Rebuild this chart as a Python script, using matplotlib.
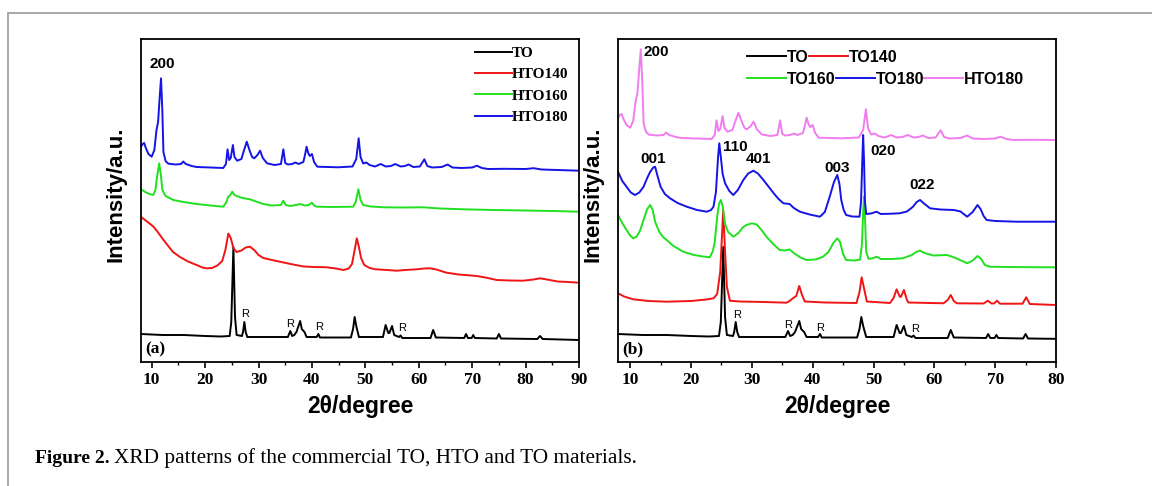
import numpy as np
import matplotlib
matplotlib.use('Agg')
import matplotlib.pyplot as plt
from matplotlib.patches import Rectangle
from matplotlib.ticker import MultipleLocator

# 2theta / intensity (a.u.) pairs
to_x = [8.0, 12, 16, 20, 23, 24.6, 24.9, 25.3, 25.6, 25.9, 26.9, 27.1, 27.35, 27.6, 27.9,
        35.5, 35.95, 36.3, 36.7, 37.1, 37.8, 38.1, 38.6, 39.0, 40.9, 41.2, 41.5, 47.3, 47.7,
        48.0, 48.3, 48.8, 53.3, 53.8, 54.3, 54.5, 55.0, 55.4, 56.3, 56.6, 56.9, 62.2, 62.7,
        63.2, 68.5, 68.85, 69.2, 69.9, 70.2, 70.5, 74.6, 75.0, 75.4, 82.2, 82.7, 83.2, 90]
to_y = [28, 27, 27, 26, 25.5, 26, 40, 115, 45, 27, 26, 30, 40, 30, 25,
        25, 31, 26, 27, 30, 41, 33, 30, 25, 25, 28, 24.5, 24.5, 33,
        45, 36, 25, 25, 37, 29, 29, 36, 27, 25, 26.5, 24, 24, 32,
        24.5, 24, 28, 24, 24, 27, 24, 23.5, 28, 23.5, 23, 26, 23, 22]

hto140_x = [8.0, 9.0, 10.3, 11.0, 11.8, 12.8, 14.0, 15.3, 16.8, 18.4, 19.5, 20.3, 21.3, 22.3,
            23.2, 23.8, 24.35, 24.8, 25.3, 25.9, 26.8, 27.6, 28.4, 29.2, 30.0, 30.9, 32.5,
            34.0, 36.0, 38.4, 40.5, 42.8, 44.5, 45.9, 46.9, 47.5, 48.0, 48.4, 48.8, 49.2,
            49.8, 50.8, 51.9, 54.0, 55.9, 57.5, 59.6, 61.0, 62.1, 63.3, 65.2, 67.5, 70.85,
            72.5, 74.6, 77.0, 79.5, 81.5, 82.7, 84.0, 86.0, 88.0, 90.0]
hto140_y = [145, 141, 135.5, 131, 125, 118, 110, 105, 100.5, 97, 94.5, 93.7, 94, 96.5,
            101, 112, 128.5, 124, 114, 110, 111.5, 114.5, 115.3, 112, 107, 104, 102,
            100.3, 98, 95.5, 95, 94.7, 93.5, 92, 93.5, 98, 112, 123.7, 115, 104,
            97, 94, 92.7, 92, 91.3, 92, 92.7, 93.5, 93.7, 92.5, 89.3, 87.5, 86,
            84.5, 82, 81.5, 81.3, 82.5, 83.7, 82.5, 80.5, 80, 79.3]

hto160_x = [8.0, 8.8, 9.6, 10.3, 10.7, 11.0, 11.4, 11.7, 12.0, 12.6, 14.05, 16.0, 18.4, 21.0,
            23.4, 24.0, 24.3, 24.7, 25.1, 25.5, 25.9, 27.0, 28.4, 29.8, 30.9, 32.5, 34.2,
            34.65, 35.1, 35.9, 37.0, 37.8, 38.6, 39.4, 40.0, 40.5, 41.0, 44.0, 47.7, 48.2,
            48.7, 49.1, 49.6, 51.0, 53.4, 57.0, 60.9, 64.0, 68.4, 74.0, 80.0, 85.0, 90.0]
hto160_y = [172.7, 170, 168, 167, 172, 185, 198.7, 188, 172, 166, 162, 160, 158, 156.5,
            155.3, 160, 165, 167, 170.3, 167, 166, 164, 162.7, 160, 158, 156.5, 157,
            161.3, 157, 156, 157, 158, 156.5, 157, 159.3, 156, 155.3, 155, 155.3, 160,
            172.7, 162, 157, 155.5, 154.7, 154.5, 154.7, 153.5, 152.7, 152, 151.5, 151, 150.3]

hto180_x = [8.0, 8.3, 8.6, 8.9, 9.4, 10.0, 10.5, 10.9, 11.2, 11.5, 11.75, 12.0, 12.2, 12.6,
            13.1, 14.5, 15.5, 15.9, 16.4, 17.5, 18.4, 21.0, 23.4, 23.9, 24.2, 24.5, 24.8,
            25.2, 25.5, 26.0, 26.8, 27.3, 27.8, 28.3, 28.8, 29.2, 29.8, 30.3, 30.8, 31.6,
            33.0, 34.2, 34.65, 35.0, 35.5, 36.3, 36.9, 37.5, 38.4, 38.7, 39.0, 39.3, 39.6,
            40.0, 40.4, 41.0, 43.0, 44.9, 47.6, 48.3, 48.75, 49.1, 49.6, 50.2, 50.8, 51.8,
            52.9, 53.8, 54.8, 55.6, 56.6, 57.4, 58.1, 59.0, 60.2, 61.05, 61.6, 62.5, 64.3,
            65.4, 66.3, 68.0, 70.0, 70.9, 71.8, 73.0, 76.0, 80.0, 81.5, 83.0, 86.0, 90.0]
hto180_y = [215.3, 218, 219, 214, 208, 205.3, 212, 232, 240, 265, 283.7, 250, 210, 201,
            198.3, 197.5, 198, 200.5, 198, 196, 195, 194.5, 194, 198, 212.7, 202, 204,
            217, 205, 201.3, 203, 212, 220.3, 212, 205, 203.7, 207, 211.3, 204, 198.7,
            197, 198, 212.7, 199, 197.5, 198, 199.5, 198, 200, 207, 215.3, 209, 206,
            208, 200, 195.3, 195, 194.7, 195.5, 203, 223.7, 205, 198.5, 199.5, 197, 195.5,
            198, 195.5, 196, 198, 195.5, 196, 197.5, 195, 195.5, 202.7, 196, 194.5, 195,
            197.5, 194.5, 194, 194.5, 196.3, 194, 193, 193.2, 193, 193.8, 192.5, 192, 191.3]
hto180_shift_b = 29

to140_x = [8.0, 9.0, 10.5, 13.0, 16.0, 20.0, 22.5, 23.7, 24.3, 24.8, 25.3, 25.6, 25.9, 26.4,
           28.0, 32.0, 35.7, 36.2, 36.8, 37.3, 37.8, 38.2, 38.7, 42.0, 47.2, 47.7, 48.05,
           48.4, 48.9, 52.7, 53.3, 53.8, 54.3, 54.5, 55.0, 55.5, 55.75, 61.5, 62.2, 62.7,
           63.2, 63.7, 68.1, 68.8, 69.4, 69.8, 70.3, 70.8, 74.5, 75.1, 75.7, 80.0]
to140_y = [68.7, 65.5, 62.7, 61, 60.3, 61, 62.5, 63.7, 68, 90, 152, 110, 75, 61.3,
           60.5, 60, 59.3, 61, 64, 66, 76, 68, 60.5, 59.5, 59, 70, 84.7,
           75, 60.5, 59, 64, 72.7, 65.5, 65, 72, 62, 59.5, 58.7, 62, 67,
           61, 58.7, 58.5, 61.3, 58.5, 58.5, 61.3, 58.3, 58.3, 64.7, 58, 57]

to160_x = [8.0, 8.7, 9.4, 10.0, 10.5, 11.0, 11.6, 12.2, 12.8, 13.3, 13.7, 14.1, 14.8, 15.4,
           16.0, 17.0, 18.7, 20.5, 22.0, 23.1, 23.6, 23.9, 24.3, 24.6, 24.9, 25.2, 25.6,
           26.1, 26.95, 27.8, 28.5, 29.1, 30.0, 30.8, 31.6, 32.4, 33.5, 34.6, 35.4, 36.2,
           37.0, 38.0, 39.0, 40.5, 41.7, 42.6, 43.4, 44.05, 44.5, 45.0, 45.5, 47.0, 47.8,
           48.1, 48.3, 48.45, 48.6, 48.8, 49.2, 50.0, 50.5, 51.2, 53.0, 54.8, 56.3, 57.0,
           57.65, 58.4, 59.85, 62.1, 63.5, 65.4, 66.3, 67.1, 67.7, 68.3, 69.1, 72.0, 76.0, 80.0]
to160_y = [147, 139, 132, 126.5, 123.7, 125, 131, 142, 153, 157, 152, 140.3, 130, 125,
           122, 116.5, 110.3, 107, 105.5, 104.7, 111, 120, 145, 158, 162, 156, 138,
           130, 125.3, 129, 134.5, 137, 138.7, 137.5, 132, 125.3, 118, 112, 111.5, 112.5,
           108.5, 104.5, 102, 102.5, 105.3, 110, 119, 123.7, 120, 108, 102, 101.5, 102.5,
           118, 150, 165.3, 145, 110, 103, 104, 105.3, 103, 103, 103.7, 107, 110,
           111.3, 109, 106.5, 107, 104, 98.7, 101.5, 106, 103, 97, 95.3, 95, 94.8, 94.7]

to180_x = [8.0, 8.7, 9.4, 10.1, 10.8, 11.5, 12.2, 12.8, 13.3, 13.8, 14.1, 14.5, 15.0, 15.7,
           16.55, 17.8, 19.3, 21.0, 22.6, 23.3, 23.7, 24.1, 24.45, 24.65, 24.9, 25.2, 25.6,
           26.3, 26.95, 27.7, 28.6, 29.4, 30.25, 31.0, 31.9, 32.8, 33.6, 34.4, 35.2, 35.8,
           36.2, 36.9, 37.9, 39.5, 41.2, 42.0, 42.8, 43.5, 44.05, 44.4, 44.7, 45.1, 45.5,
           46.5, 47.7, 47.95, 48.15, 48.3, 48.45, 48.6, 48.8, 49.6, 50.5, 51.2, 52.5, 54.3,
           55.5, 56.5, 57.1, 57.65, 58.3, 59.3, 61.0, 63.2, 64.3, 65.4, 66.3, 67.1, 67.6,
           68.1, 68.6, 70.0, 73.5, 77.0, 80.0]
to180_y = [190.3, 181, 175.3, 169.5, 167, 169.5, 175.3, 184, 190.3, 194.5, 195.3, 186, 175.3, 168,
           163.7, 159, 155.3, 152, 150.3, 152, 155.3, 170, 205, 218.7, 205, 188, 178.7,
           171, 167, 172, 182, 188.5, 191.3, 188.5, 182, 175, 168.7, 163, 158.7, 158.3,
           158, 154, 150.3, 147.5, 145.3, 150, 165.3, 180, 187, 178, 162, 152, 147,
           145.5, 145.3, 160, 200, 227, 200, 160, 148, 148.5, 150.3, 148, 148.2, 148.7,
           150.5, 155.3, 160, 162, 158.5, 153.7, 152.5, 152, 150.5, 145.3, 150, 157, 153,
           146, 142, 141, 140.3, 140.3, 140.3]

# labels
legend_a = ['TO', 'HTO140', 'HTO160', 'HTO180']
legend_b = ['TO', 'TO140', 'TO160', 'TO180', 'HTO180']
r_a = [(27.47, 48), (35.9, 38), (41.27, 34.7), (56.8, 34.3)]
r_b = [(27.5, 47), (36.0, 37), (41.3, 34.3), (56.8, 33)]
hkl_a = [('200', 11.9, 298.3)]
hkl_b = [('200', 14.36, 309.7), ('110', 27.23, 215), ('001', 13.8, 202.7), ('401', 31.07, 202.7),
         ('003', 44.1, 194.3), ('020', 51.56, 211.3), ('022', 57.93, 177)]

c_black = '#000000'
c_red = '#f01414'
c_green = '#20e020'
c_blue = '#1414e6'
c_pink = '#f07cf0'

sans = ['Liberation Sans', 'DejaVu Sans']
serif = ['Liberation Serif', 'DejaVu Serif']

fig = plt.figure(figsize=(11.52, 4.86), dpi=100)
fig.patches.append(Rectangle((8 / 1152, -0.05), 1.1, 1 - 12.7 / 486 + 0.05,
                             transform=fig.transFigure, fill=False,
                             edgecolor='#a0a0a0', lw=1.3))

ax1 = fig.add_axes([141 / 1152, 1 - 362 / 486, 438 / 1152, 323 / 486])
ax2 = fig.add_axes([618 / 1152, 1 - 362 / 486, 438 / 1152, 323 / 486])

lw = 1.4
la = []
la += ax1.plot(to_x, to_y, color=c_black, lw=lw)
la += ax1.plot(hto140_x, hto140_y, color=c_red, lw=lw)
la += ax1.plot(hto160_x, hto160_y, color=c_green, lw=lw)
la += ax1.plot(hto180_x, hto180_y, color=c_blue, lw=lw)

lb = []
lb += ax2.plot(to_x, to_y, color=c_black, lw=lw)
lb += ax2.plot(to140_x, to140_y, color=c_red, lw=lw)
lb += ax2.plot(to160_x, to160_y, color=c_green, lw=lw)
lb += ax2.plot(to180_x, to180_y, color=c_blue, lw=lw)
lb += ax2.plot(hto180_x, np.array(hto180_y) + hto180_shift_b, color=c_pink, lw=lw)

for ax, xmax in ((ax1, 90), (ax2, 80)):
    ax.set_xlim(8, xmax)
    ax.set_ylim(0, 323)
    ax.set_yticks([])
    ax.xaxis.set_major_locator(MultipleLocator(10))
    ax.xaxis.set_minor_locator(MultipleLocator(5))
    ax.tick_params(axis='x', which='major', direction='out', length=4.5, width=1.2, pad=3)
    ax.tick_params(axis='x', which='minor', direction='out', length=2.5, width=1.0)
    for s in ax.spines.values():
        s.set_linewidth(1.3)
    for t in ax.get_xticklabels():
        t.set_fontfamily(serif)
        t.set_fontweight('bold')
        t.set_fontsize(12.5)
    ax.set_xlabel('2θ/degree', fontfamily=sans, fontweight='bold', fontsize=16.5, labelpad=5)
    ax.set_ylabel('Intensity/a.u.', fontfamily=sans, fontweight='bold', fontsize=16)
    ax.yaxis.set_label_coords(-0.033, 0.52)

ax1.text(0.01, 0.015, '(a)', transform=ax1.transAxes, ha='left', va='bottom',
         fontfamily=serif, fontweight='bold', fontsize=12.5)
ax2.text(0.01, 0.015, '(b)', transform=ax2.transAxes, ha='left', va='bottom',
         fontfamily=serif, fontweight='bold', fontsize=12.5)

for ax, rs in ((ax1, r_a), (ax2, r_b)):
    for x, y in rs:
        ax.text(x, y, 'R', ha='center', va='center', fontfamily=sans, fontsize=8)

for ax, hk in ((ax1, hkl_a), (ax2, hkl_b)):
    for s, x, y in hk:
        ax.text(x, y, s, ha='center', va='center', fontfamily=sans,
                fontweight='bold', fontsize=11)

ax1.legend(la, legend_a, loc='upper left', bbox_to_anchor=(0.7626, 0.977),
           frameon=False, borderpad=0, borderaxespad=0, handlelength=2.4,
           handletextpad=0, labelspacing=0.5,
           prop={'family': serif, 'weight': 'bold', 'size': 11})

leg1 = ax2.legend(lb[:2], legend_b[:2], loc='upper left', bbox_to_anchor=(0.295, 0.966),
                  ncol=2, frameon=False, borderpad=0, borderaxespad=0, handlelength=2.45,
                  handletextpad=0.05, columnspacing=0,
                  prop={'family': sans, 'weight': 'bold', 'size': 11.5})
ax2.add_artist(leg1)
ax2.legend(lb[2:], legend_b[2:], loc='upper left', bbox_to_anchor=(0.295, 0.898),
           ncol=3, frameon=False, borderpad=0, borderaxespad=0, handlelength=2.45,
           handletextpad=0.05, columnspacing=0,
           prop={'family': sans, 'weight': 'bold', 'size': 11.5})

# caption
fig.canvas.draw()
r = fig.canvas.get_renderer()
t1 = fig.text(35 / 1152, 1 - 458 / 486, 'Figure 2.', fontfamily=serif, fontweight='bold',
              fontsize=14, va='center', ha='left')
bb = t1.get_window_extent(renderer=r)
fig.text(bb.x1 / 1152 + 4 / 1152, 1 - 458 / 486,
         'XRD patterns of the commercial TO, HTO and TO materials.',
         fontfamily=serif, fontsize=15.3, va='center', ha='left')

fig.savefig('out.png', dpi=100)
